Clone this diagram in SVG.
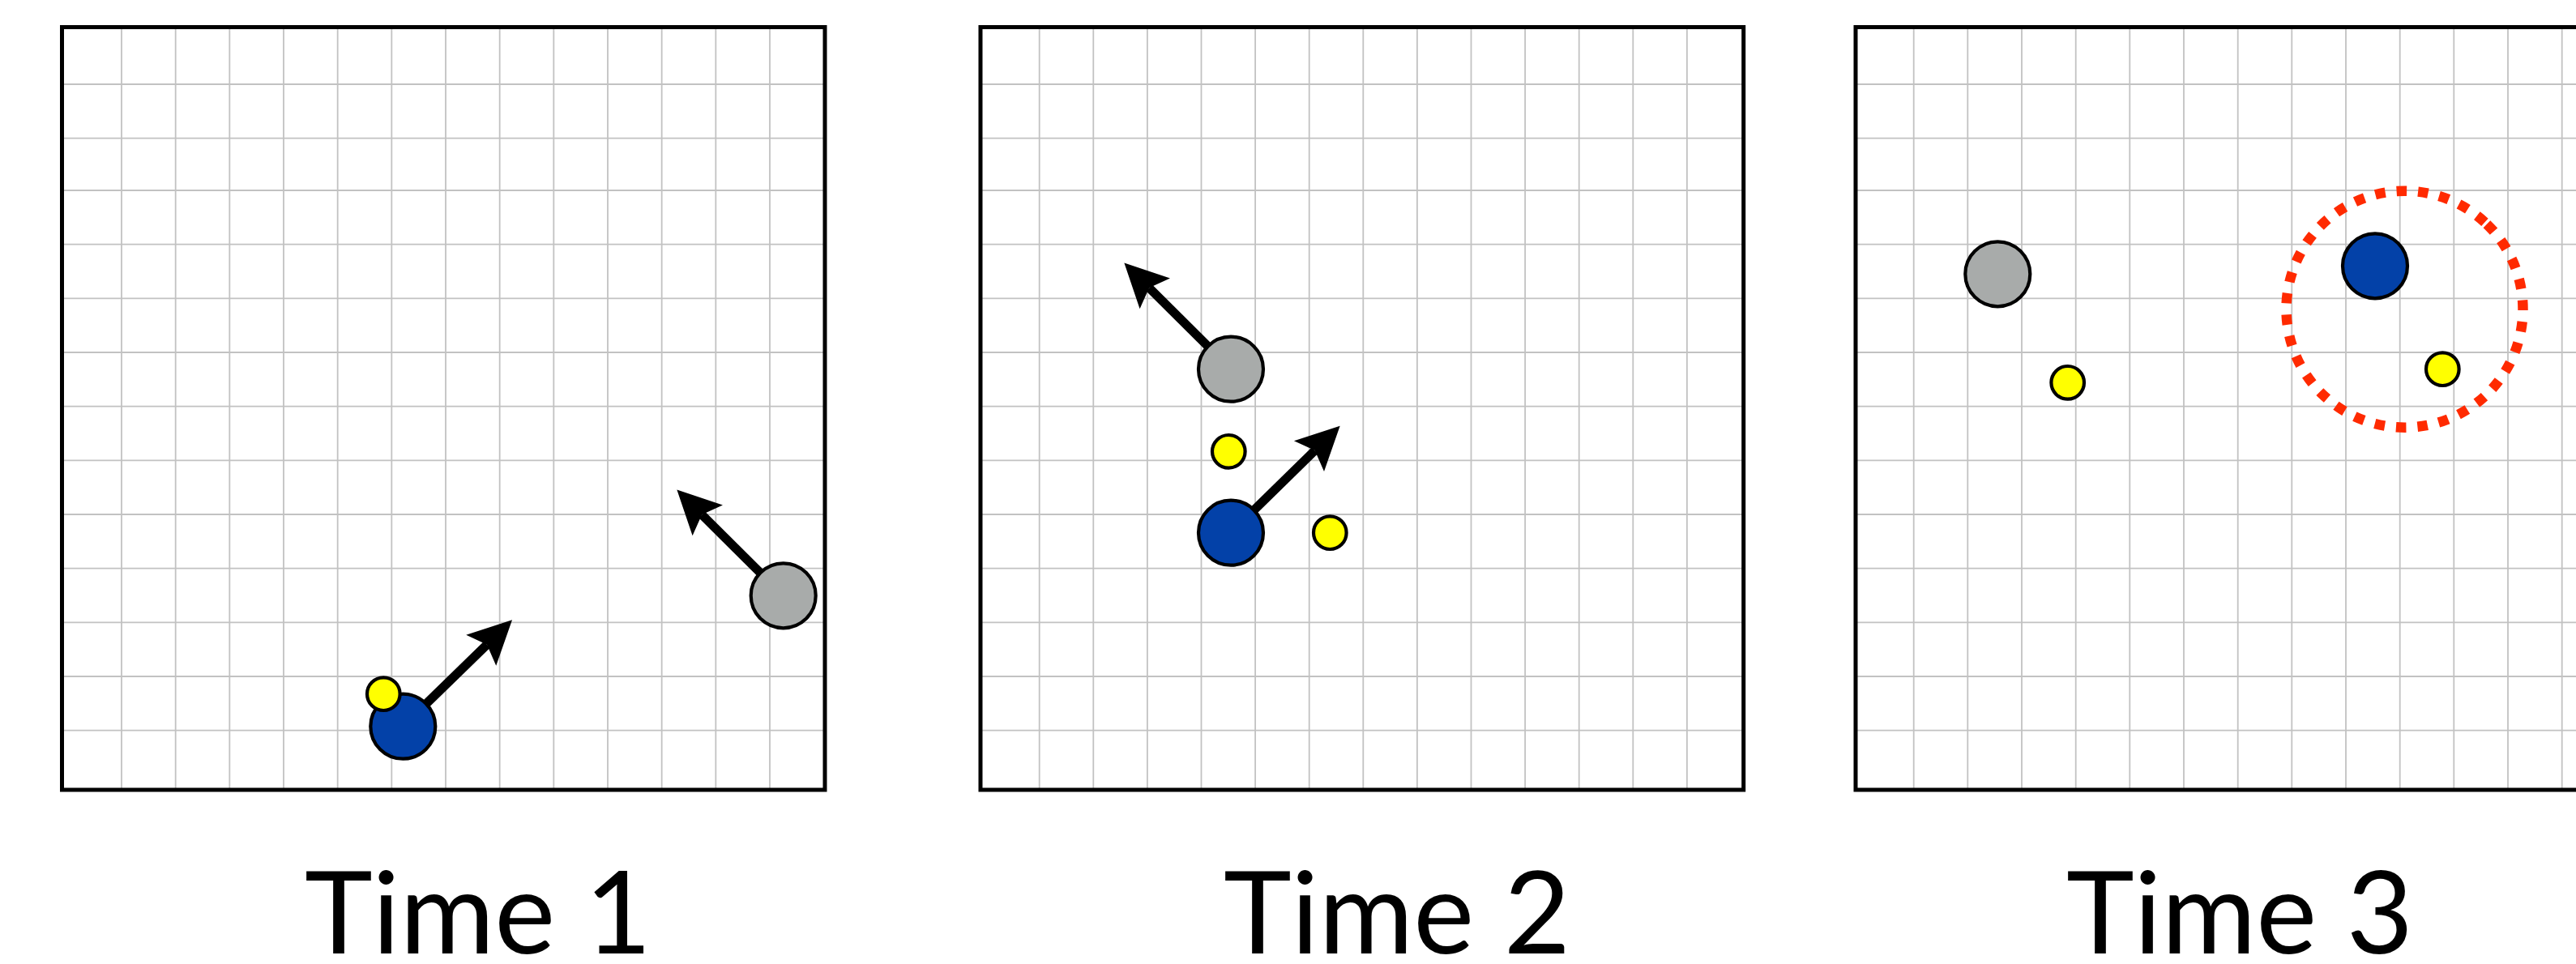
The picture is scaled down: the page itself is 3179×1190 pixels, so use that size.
<svg xmlns="http://www.w3.org/2000/svg" width="3179" height="1190" viewBox="0 0 3179 1190">
  <style>
    .grid { fill: none; stroke: #c2c2c2; stroke-width: 1.8; }
    .frame { fill: none; stroke: #000; stroke-width: 5; }
    .body { stroke: #000; stroke-width: 4.2; }
    .blue { fill: #0341a8; }
    .gray { fill: #a8abaa; }
    .yellow { fill: #ffff00; }
    .ring { fill: none; stroke: #ff2a00; stroke-width: 12.5; stroke-dasharray: 12.5 14; }
    .move { fill: none; stroke: #000; stroke-width: 11; marker-end: url(#head); }
    .label { font-family: "Lato", "Open Sans", "Liberation Sans", sans-serif; font-size: 142px; fill: #000; }
  </style>
  <defs>
    <marker id="head" markerUnits="userSpaceOnUse" viewBox="0 -28 55 56" markerWidth="55" markerHeight="56" refX="10" refY="0" orient="auto" overflow="visible">
      <path d="M0,-26.5 L53.5,0 L0,26.5 L10,0 Z" fill="#000"/>
    </marker>
  </defs>
  <rect width="3179" height="1190" fill="#fff"/>

  <!-- Panel 1 -->
  <g id="panel-1">
    <path class="grid" d="M150,33.5V975 M216.67,33.5V975 M283.33,33.5V975 M350,33.5V975 M416.67,33.5V975 M483.33,33.5V975 M550,33.5V975 M616.67,33.5V975 M683.33,33.5V975 M750,33.5V975 M816.67,33.5V975 M883.33,33.5V975 M950,33.5V975
      M76.5,104H1018 M76.5,170.7H1018 M76.5,235H1018 M76.5,301.7H1018 M76.5,368.3H1018 M76.5,435H1018 M76.5,501.7H1018 M76.5,568.3H1018 M76.5,635H1018 M76.5,701.7H1018 M76.5,768.3H1018 M76.5,835H1018 M76.5,901.7H1018"/>
    <rect class="frame" x="76.5" y="33.5" width="941.5" height="941.5"/>
  </g>

  <!-- Panel 2 -->
  <g id="panel-2">
    <path class="grid" d="M1282.7,33.5V975 M1349.3,33.5V975 M1415.9,33.5V975 M1482.5,33.5V975 M1549.1,33.5V975 M1615.7,33.5V975 M1682.3,33.5V975 M1748.9,33.5V975 M1815.5,33.5V975 M1882.1,33.5V975 M1948.7,33.5V975 M2015.3,33.5V975 M2081.9,33.5V975
      M1210,104H2151.7 M1210,170.7H2151.7 M1210,235H2151.7 M1210,301.7H2151.7 M1210,368.3H2151.7 M1210,435H2151.7 M1210,501.7H2151.7 M1210,568.3H2151.7 M1210,635H2151.7 M1210,701.7H2151.7 M1210,768.3H2151.7 M1210,835H2151.7 M1210,901.7H2151.7"/>
    <rect class="frame" x="1210" y="33.5" width="941.7" height="941.5"/>
  </g>

  <!-- Panel 3 -->
  <g id="panel-3">
    <path class="grid" d="M2361.7,33.5V975 M2428.3,33.5V975 M2495,33.5V975 M2561.7,33.5V975 M2628.3,33.5V975 M2695,33.5V975 M2761.7,33.5V975 M2828.3,33.5V975 M2895,33.5V975 M2961.7,33.5V975 M3028.3,33.5V975 M3095,33.5V975 M3161.7,33.5V975
      M2290,104H3231.7 M2290,170.7H3231.7 M2290,235H3231.7 M2290,301.7H3231.7 M2290,368.3H3231.7 M2290,435H3231.7 M2290,501.7H3231.7 M2290,568.3H3231.7 M2290,635H3231.7 M2290,701.7H3231.7 M2290,768.3H3231.7 M2290,835H3231.7 M2290,901.7H3231.7"/>
    <rect class="frame" x="2290" y="33.5" width="941.7" height="941.5"/>
  </g>

  <!-- Velocity arrows, drawn beneath the bodies they start from -->
  <g id="connectors">
    <path id="t1-blue-velocity" class="move" d="M497.3,896.7 L600.9,795.7"/>
    <path id="t1-gray-velocity" class="move" d="M966.7,735.3 L866.2,635.3"/>
    <path id="t2-gray-velocity" class="move" d="M1519,455.7 L1418.2,355.3"/>
    <path id="t2-blue-velocity" class="move" d="M1519,657.7 L1622.6,556.1"/>
  </g>

  <!-- Time 1 bodies -->
  <g id="t1-blue"><circle class="body blue" cx="497.3" cy="896.7" r="40"/></g>
  <g id="t1-yellow"><circle class="body yellow" cx="473.3" cy="856.7" r="20.3"/></g>
  <g id="t1-gray"><circle class="body gray" cx="966.7" cy="735.3" r="40"/></g>

  <!-- Time 2 bodies -->
  <g id="t2-gray"><circle class="body gray" cx="1519" cy="455.7" r="40"/></g>
  <g id="t2-yellow-a"><circle class="body yellow" cx="1516.3" cy="557.3" r="20.3"/></g>
  <g id="t2-blue"><circle class="body blue" cx="1519" cy="657.7" r="40"/></g>
  <g id="t2-yellow-b"><circle class="body yellow" cx="1641.3" cy="657.7" r="20.3"/></g>

  <!-- Time 3 bodies -->
  <g id="t3-gray"><circle class="body gray" cx="2465.3" cy="338.3" r="40"/></g>
  <g id="t3-yellow-a"><circle class="body yellow" cx="2551.7" cy="472.3" r="20.3"/></g>
  <g id="t3-blue"><circle class="body blue" cx="2931" cy="328.3" r="40"/></g>
  <g id="t3-yellow-b"><circle class="body yellow" cx="3014.3" cy="455.7" r="20.3"/></g>
  <g id="t3-ring"><circle class="ring" cx="2967.5" cy="381.7" r="146" transform="rotate(-46 2967.5 381.7)"/></g>

  <!-- Labels -->
  <text class="label" x="376" y="1177">Time 1</text>
  <text class="label" x="1510" y="1177">Time 2</text>
  <text class="label" x="2550" y="1177">Time 3</text>
</svg>
